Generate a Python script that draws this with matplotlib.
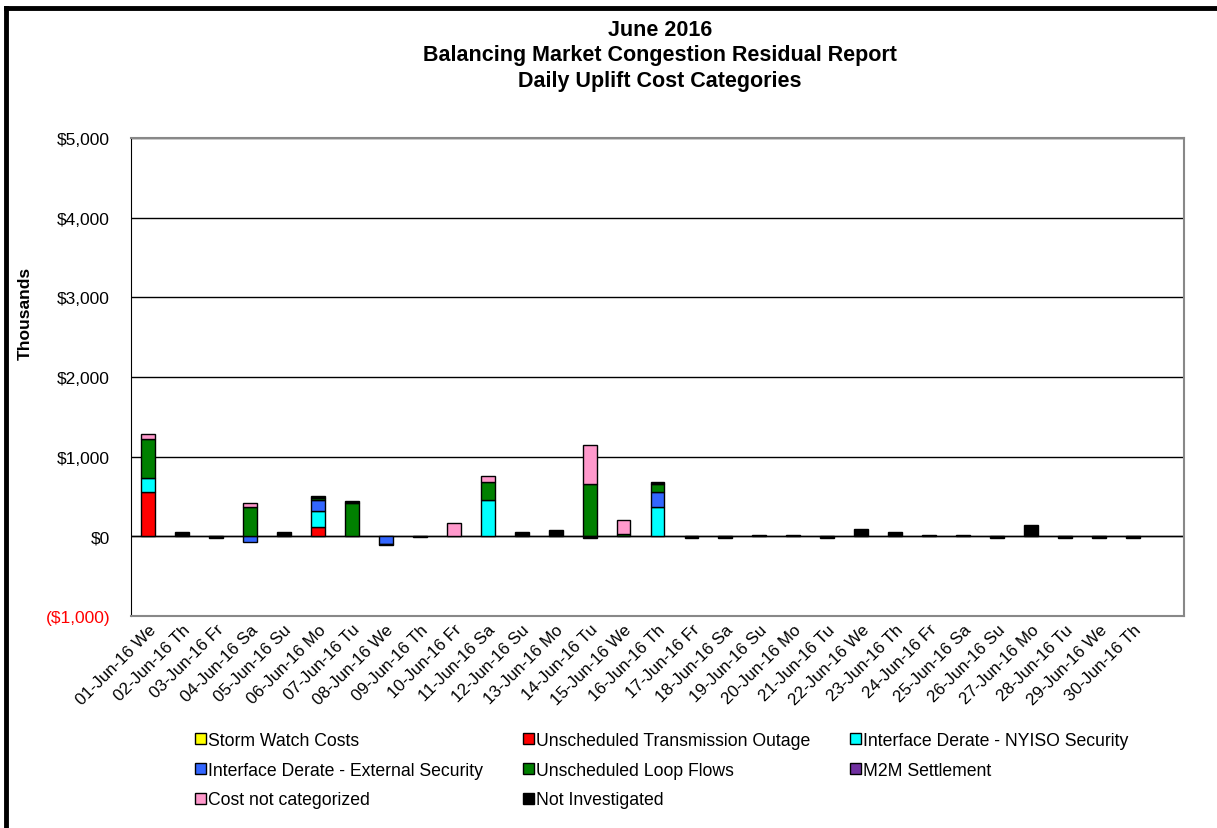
import matplotlib
matplotlib.use("Agg")
import matplotlib.pyplot as plt
from matplotlib.patches import Patch
from matplotlib.lines import Line2D
import numpy as np

plt.rcParams['font.family'] = ['Liberation Sans', 'DejaVu Sans']

days = ["01-Jun-16 We", "02-Jun-16 Th", "03-Jun-16 Fr", "04-Jun-16 Sa", "05-Jun-16 Su",
        "06-Jun-16 Mo", "07-Jun-16 Tu", "08-Jun-16 We", "09-Jun-16 Th", "10-Jun-16 Fr",
        "11-Jun-16 Sa", "12-Jun-16 Su", "13-Jun-16 Mo", "14-Jun-16 Tu", "15-Jun-16 We",
        "16-Jun-16 Th", "17-Jun-16 Fr", "18-Jun-16 Sa", "19-Jun-16 Su", "20-Jun-16 Mo",
        "21-Jun-16 Tu", "22-Jun-16 We", "23-Jun-16 Th", "24-Jun-16 Fr", "25-Jun-16 Sa",
        "26-Jun-16 Su", "27-Jun-16 Mo", "28-Jun-16 Tu", "29-Jun-16 We", "30-Jun-16 Th"]

# values in $ thousands, one per day
storm_watch = [0] * 30
trans_outage = [555, 0, 0, 0, 0, 117, 0, 0, 0, 0, 0, 0, 0, 0, 0,
                0, 0, 0, 0, 0, 0, 0, 0, 0, 0, 0, 0, 0, 0, 0]
nyiso_security = [182, 0, 0, 0, 0, 200, 0, 0, 0, 0, 455, 0, 0, 0, 0,
                  367, 0, 0, 0, 0, 0, 0, 0, 0, 0, 0, 0, 0, 0, 0]
external_security = [0, 0, 0, -70, 0, 133, 0, -90, 0, 0, 0, 0, 0, 0, 0,
                     188, 0, 0, 0, 0, 0, 0, 0, 0, 0, 0, 0, 0, 0, 0]
loop_flows = [484, 0, 0, 367, 0, 33, 417, 0, 0, 0, 233, 0, 0, 655, 33,
              100, 0, 0, 0, 0, 0, 0, 0, 0, 0, 0, 0, 0, 0, 0]
m2m = [0] * 30
not_categorized = [59, 0, 0, 54, 0, 0, 0, 0, 0, 171, 71, 0, 0, 491, 172,
                   0, 0, 0, 0, 0, 0, 0, 0, 0, 0, 0, 0, 0, 0, 0]
not_investigated = [0, 55, -15, 0, 55, 25, 25, -20, -12, 0, 0, 55, 75, -20, 0,
                    25, -15, -15, 20, 20, -20, 90, 58, 20, 20, -20, 146, -20, -20, -20]

series = [
    ("Storm Watch Costs", storm_watch, "#FFFF00"),
    ("Unscheduled Transmission Outage", trans_outage, "#FF0000"),
    ("Interface Derate - NYISO Security", nyiso_security, "#00FFFF"),
    ("Interface Derate - External Security", external_security, "#3366FF"),
    ("Unscheduled Loop Flows", loop_flows, "#008000"),
    ("M2M Settlement", m2m, "#7030A0"),
    ("Cost not categorized", not_categorized, "#FF99CC"),
    ("Not Investigated", not_investigated, "#000000"),
]

fig = plt.figure(figsize=(12.17, 8.29), dpi=100)
ax = fig.add_axes([131 / 1217, 1 - 617 / 829, (1184 - 131) / 1217, (617 - 139) / 829])

x = np.arange(len(days))
pos_base = np.zeros(len(days))
neg_base = np.zeros(len(days))
handles = []
for name, vals, col in series:
    v = np.array(vals, dtype=float)
    base = np.where(v >= 0, pos_base, neg_base)
    mask = v != 0
    ax.bar(x[mask], v[mask], bottom=base[mask], width=0.41, color=col,
           edgecolor="black", linewidth=1, zorder=3)
    pos_base += np.where(v > 0, v, 0)
    neg_base += np.where(v < 0, v, 0)
    handles.append(Patch(facecolor=col, edgecolor="black", linewidth=1, label=name))

ax.set_xlim(-0.5, 30.5)
ax.set_ylim(-1000, 5000)
yt = np.arange(-1000, 5001, 1000)
ax.set_yticks(yt)
ax.set_yticklabels(["(${:,})".format(-v) if v < 0 else "${:,}".format(v) for v in yt], fontsize=12.5)
ax.get_yticklabels()[0].set_color("red")
ax.yaxis.grid(True, color="black", linewidth=1)
ax.set_axisbelow(True)
ax.tick_params(axis="y", length=0, pad=15)
ax.set_xticks(x)
ax.set_xticklabels(days, rotation=45, ha="right", rotation_mode="anchor", fontsize=12.2)
ax.tick_params(axis="x", length=0, pad=4)
for s in ["top", "right", "bottom"]:
    ax.spines[s].set_color("#888888")
    ax.spines[s].set_linewidth(1.5)
ax.spines["left"].set_color("black")
ax.axhline(0, color="black", linewidth=1, zorder=2)

fig.text(25 / 1217, 1 - 313 / 829, "Thousands", rotation=90, fontsize=12.5,
         fontweight="bold", ha="center", va="center")

fig.text(660 / 1217, 1 - 30 / 829, "June 2016", fontsize=15.5, fontweight="bold", ha="center", va="center")
fig.text(660 / 1217, 1 - 56 / 829, "Balancing Market Congestion Residual Report", fontsize=15.5,
         fontweight="bold", ha="center", va="center")
fig.text(660 / 1217, 1 - 82 / 829, "Daily Uplift Cost Categories", fontsize=15.5,
         fontweight="bold", ha="center", va="center")

# legend filled column by column
order = [0, 3, 6, 1, 4, 7, 2, 5]
fig.legend([handles[i] for i in order], [handles[i].get_label() for i in order],
           ncol=3, loc="upper left", bbox_to_anchor=(188 / 1217, 1 - 726 / 829),
           frameon=False, fontsize=12.7, handlelength=0.6, handleheight=0.6,
           handletextpad=0.15, columnspacing=2.25, labelspacing=0.72, borderaxespad=0)

# outer chart border
fig.add_artist(Line2D([6 / 1217, 6 / 1217], [0, 1 - 9 / 829], transform=fig.transFigure,
                      color="black", linewidth=3.5))
fig.add_artist(Line2D([6 / 1217, 1], [1 - 9 / 829, 1 - 9 / 829], transform=fig.transFigure,
                      color="black", linewidth=3.5))

fig.savefig("out.png", dpi=100)
